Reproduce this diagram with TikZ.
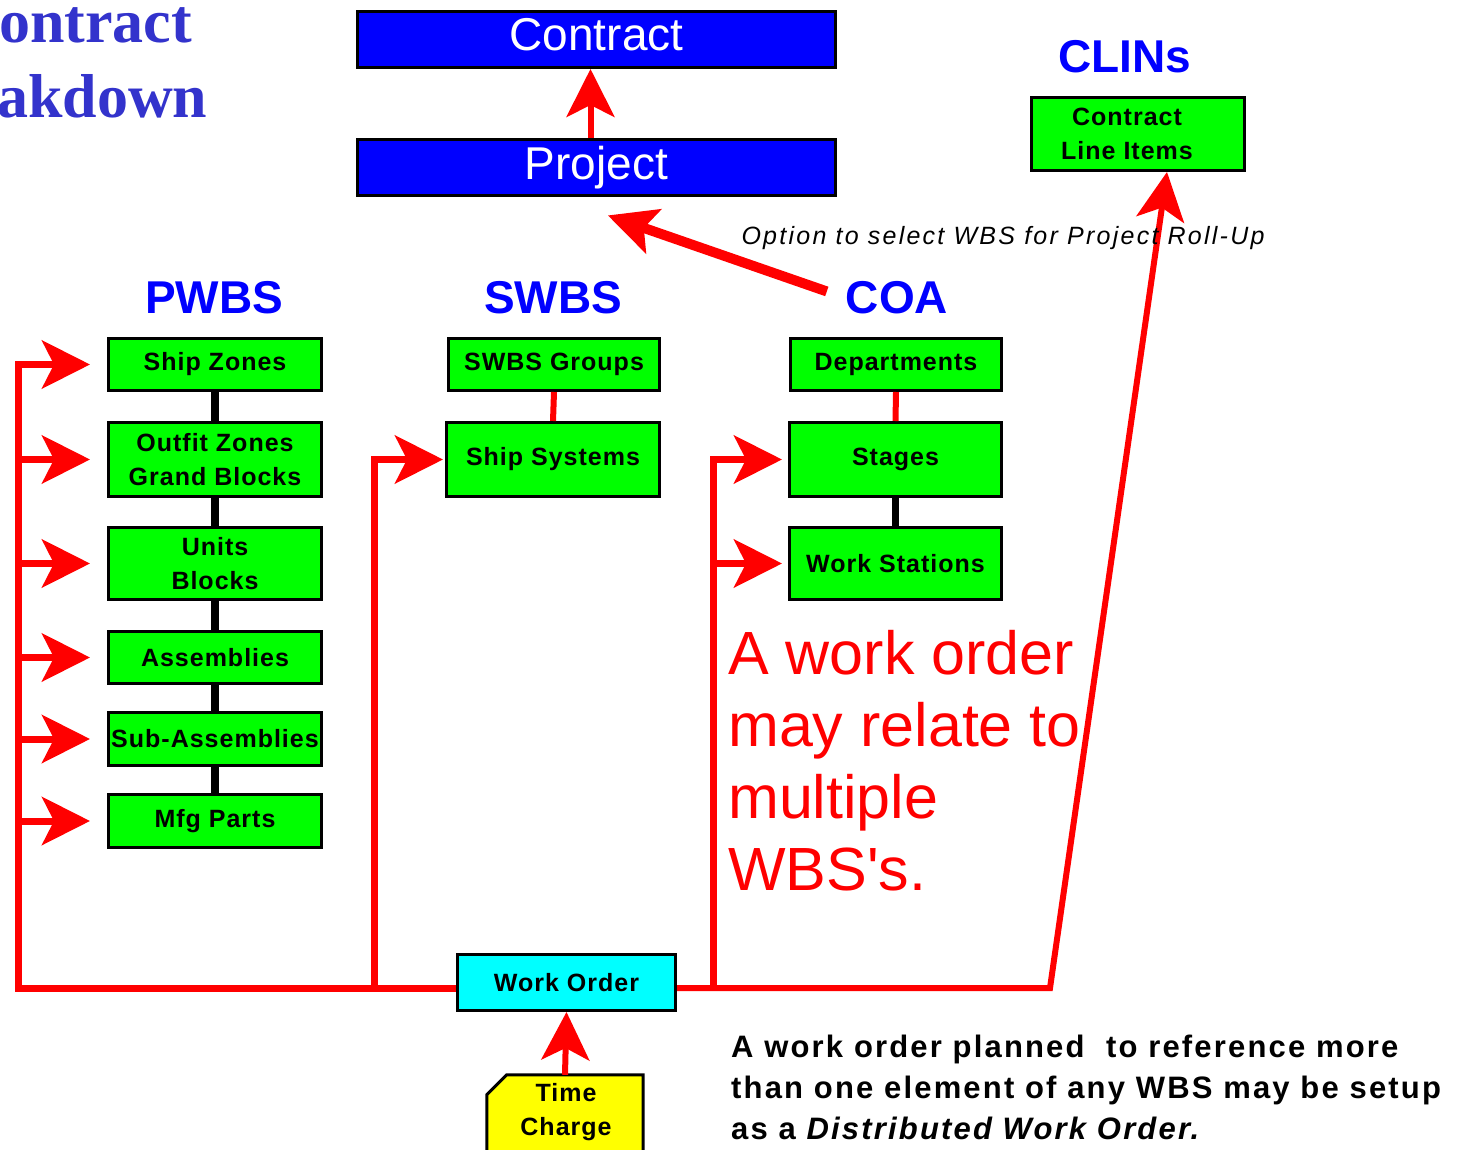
\documentclass[tikz,border=0pt]{standalone}
\usepackage{fontspec}
\setmainfont{Liberation Sans}
\newfontfamily\titlefont{Liberation Serif}
\newfontfamily\trackfont[LetterSpace=4]{Liberation Sans}
\newfontfamily\optfont[LetterSpace=9]{Liberation Sans}
\newfontfamily\notefont[LetterSpace=7]{Liberation Sans}
\usetikzlibrary{arrows.meta}
\definecolor{titleblue}{HTML}{3333CC}
\definecolor{pureblue}{RGB}{0,0,255}
\definecolor{boxgreen}{RGB}{0,255,0}
\definecolor{boxcyan}{RGB}{0,255,255}
\definecolor{boxyellow}{RGB}{255,255,0}
\definecolor{pured}{RGB}{255,0,0}
\tikzset{
  anybox/.style={draw=black, line width=3pt, inner sep=0pt, align=center},
  bluebox/.style={anybox, fill=pureblue, text=white, minimum width=478pt, minimum height=56pt,
    font=\fontsize{46}{50}\selectfont},
  wbox/.style={anybox, fill=boxgreen, font=\trackfont\bfseries\fontsize{25}{34}\selectfont},
  head/.style={inner sep=0pt, text=pureblue, font=\bfseries\fontsize{46}{50}\selectfont},
  blk/.style={draw=black, line width=8pt},
  redline/.style={draw=pured, line width=7pt},
  redarrow/.style={redline, -{Stealth[length=48pt,width=48pt,inset=12pt]}},
}
\begin{document}
\begin{tikzpicture}[x=1pt,y=-1pt]
\useasboundingbox (0,0) rectangle (1459,1150);
\fill[white] (0,0) rectangle (1459,1150);

% title (cut off at the left edge)
\node[anchor=base west, inner sep=0pt, text=titleblue, font=\titlefont\bfseries\fontsize{62}{62}\selectfont] (title1) at (-1,43) {ontract};
\node[anchor=base west, inner sep=0pt, text=titleblue, font=\titlefont\bfseries\fontsize{62}{62}\selectfont] (title2) at (-3,118) {akdown};

% contract / project
\node[bluebox, text depth=10pt] (contract) at (596.5,39.5) {Contract};
\node[bluebox] (project) at (596.5,168) {Project};
\draw[redarrow, line width=6pt] ([xshift=-6pt]project.north) -- ([xshift=-6pt]contract.south);

% CLINs
\node[head] (clins) at (1125,57) {CLINs};
\node[wbox, minimum width=213pt, minimum height=73pt] (clin) at (1138,134) {Contract\hspace*{22pt}\\Line Items\hspace*{22pt}};

% headings
\node[head] (pwbs) at (214,298) {PWBS};
\node[head] (swbs) at (553,298) {SWBS};
\node[head] (coa) at (897,298) {COA};

% PWBS boxes
\node[wbox, minimum width=213pt, minimum height=52pt] (sz) at (215,364.5) {Ship Zones};
\node[wbox, minimum width=213pt, minimum height=74pt] (oz) at (215,459.5) {Outfit Zones\\Grand Blocks};
\node[wbox, minimum width=213pt, minimum height=72pt] (ub) at (215,563.5) {Units\\Blocks};
\node[wbox, minimum width=213pt, minimum height=52pt] (as) at (215,657.5) {Assemblies};
\node[wbox, minimum width=213pt, minimum height=53pt] (sa) at (215,739) {Sub-Assemblies};
\node[wbox, minimum width=213pt, minimum height=53pt] (mp) at (215,821) {Mfg Parts};
\draw[blk] (sz.south) -- (oz.north);
\draw[blk] (oz.south) -- (ub.north);
\draw[blk] (ub.south) -- (as.north);
\draw[blk] (as.south) -- (sa.north);
\draw[blk] (sa.south) -- (mp.north);

% SWBS boxes
\node[wbox, minimum width=211pt, minimum height=52pt] (sg) at (554,364.5) {SWBS Groups};
\node[wbox, minimum width=213pt, minimum height=74pt] (ss) at (553,459.5) {Ship Systems};
\draw[redline, line width=6pt] (sg.south) -- (ss.north);

% COA boxes
\node[wbox, minimum width=211pt, minimum height=52pt] (dp) at (896,364.5) {Departments};
\node[wbox, minimum width=212pt, minimum height=74pt] (st) at (895.5,459.5) {Stages};
\node[wbox, minimum width=212pt, minimum height=72pt] (ws) at (895.5,563.5) {Work Stations};
\draw[redline, line width=6pt] (dp.south) -- (st.north);
\draw[blk, line width=7pt] (st.south) -- (ws.north);

% work order and time charge
\node[anchor=center, draw=black, line width=3pt, fill=boxcyan, inner sep=0pt, minimum width=218pt, minimum height=56pt,
  font=\trackfont\bfseries\fontsize{25}{34}\selectfont] (wo) at (566.5,982.5) {Work Order};
\node[inner sep=0pt, minimum width=156pt, minimum height=78pt] (tcb) at (565,1114) {};
\draw[line width=3pt, fill=boxyellow] ([xshift=20pt]tcb.north west) -- (tcb.north east) -- (tcb.south east)
  -- (tcb.south west) -- ([yshift=-20pt]tcb.north west) -- cycle;
\node[inner sep=0pt, align=center, font=\trackfont\bfseries\fontsize{25}{34}\selectfont] (tc) at (566,1112) {Time\\Charge};
\draw[redarrow, line width=6pt] (tcb.north) -- (wo.south);

% red buses
\coordinate (busy) at (0,988);
\coordinate (lbus) at (18,361);
\coordinate (sbus) at (374,456);
\coordinate (cbus) at (713,456);
\coordinate (rbend) at (1050,988);
\draw[redline] (lbus) -- (lbus |- busy) -- (wo.west |- busy);
\foreach \b in {sz,oz,ub,as,sa,mp}{
  \draw[redarrow, shorten >=17pt] (lbus |- \b.west) -- (\b.west);
}
\draw[redline] (sbus) -- (sbus |- busy);
\draw[redarrow, shorten >=2pt] (sbus |- ss.west) -- (ss.west);
\draw[redline] (cbus) -- (cbus |- busy);
\draw[redarrow, shorten >=6pt] (cbus |- st.west) -- (st.west);
\draw[redarrow, shorten >=6pt] (cbus |- ws.west) -- (ws.west);
\draw[redarrow, line width=6pt] (wo.east |- busy) -- (rbend) -- ([xshift=29pt]clin.south);

% COA roll-up arrow
\draw[redline, line width=10pt, -{Stealth[length=48pt,width=46pt,inset=10pt]}, shorten <=20pt, shorten >=12pt]
  (coa.west) -- ([yshift=-14pt]project.south);
\node[inner sep=0pt, font=\optfont\itshape\fontsize{25}{28}\selectfont] (opt) at (1003,238) {Option to select WBS for Project Roll-Up};

% notes
\node[anchor=north west, inner sep=0pt, align=left, text=pured, font=\fontsize{61}{72}\selectfont] (note1) at (728,630)
  {A work order\\may relate to\\multiple\\WBS\textquotesingle s.};
\node[anchor=north west, inner sep=0pt, align=left, font=\notefont\bfseries\fontsize{31}{41}\selectfont] (note2) at (731,1035)
  {A work order planned\ \ to reference more\\than one element of any WBS may be setup\\as a \textit{Distributed Work Order.}};
\end{tikzpicture}
\end{document}
